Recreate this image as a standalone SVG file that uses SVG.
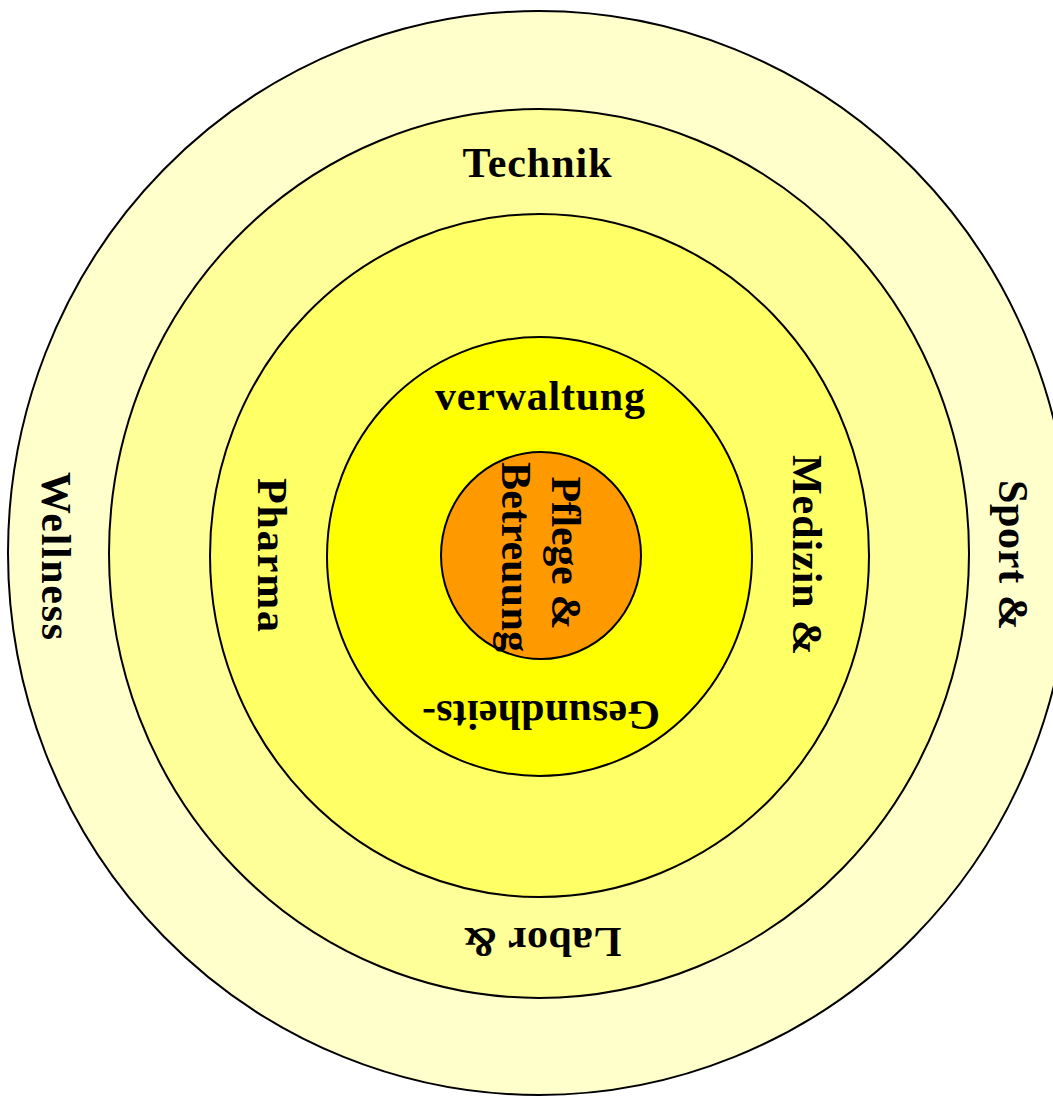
<svg xmlns="http://www.w3.org/2000/svg" width="1053" height="1097" viewBox="0 0 1053 1097">
<style>
.ring{stroke:#000;stroke-width:2}
.t{font-family:"Liberation Serif","Times New Roman",serif;font-weight:bold;font-size:42px;fill:#000;text-anchor:middle}
</style>
<rect width="1053" height="1097" fill="#fff"/>
<g id="ring-outer"><ellipse class="ring" cx="539" cy="553" rx="531" ry="542" fill="#ffffcc"/></g>
<g id="ring-2"><ellipse class="ring" cx="539" cy="553.5" rx="430" ry="444.5" fill="#ffff99"/></g>
<g id="ring-3"><ellipse class="ring" cx="539.5" cy="555.5" rx="329.5" ry="341.5" fill="#ffff66"/></g>
<g id="ring-4"><ellipse class="ring" cx="539.5" cy="556.5" rx="212.5" ry="219.5" fill="#ffff00"/></g>
<g id="core"><ellipse class="ring" cx="541" cy="555.5" rx="100" ry="103.5" fill="#ff9900"/></g>
<g id="labels">
<text class="t" x="537" y="177" textLength="149" lengthAdjust="spacing">Technik</text>
<text class="t" x="540" y="410" textLength="210" lengthAdjust="spacing">verwaltung</text>
<text class="t" transform="translate(541,701) rotate(180)" textLength="238" lengthAdjust="spacing">Gesundheits-</text>
<text class="t" transform="translate(542,928) rotate(180)" textLength="159" lengthAdjust="spacing">Labor &amp;</text>
<text class="t" transform="translate(42,556) rotate(90)" textLength="168" lengthAdjust="spacing">Wellness</text>
<text class="t" transform="translate(999,555) rotate(90)" textLength="150" lengthAdjust="spacing">Sport &amp;</text>
<text class="t" transform="translate(793,555) rotate(90)" textLength="200" lengthAdjust="spacing">Medizin &amp;</text>
<text class="t" transform="translate(258,555) rotate(90)" textLength="154" lengthAdjust="spacing">Pharma</text>
<text class="t" transform="translate(552,553) rotate(90)" textLength="153" lengthAdjust="spacing">Pflege &amp;</text>
<text class="t" transform="translate(502,557) rotate(90)" textLength="190" lengthAdjust="spacing">Betreuung</text>
</g>
</svg>
